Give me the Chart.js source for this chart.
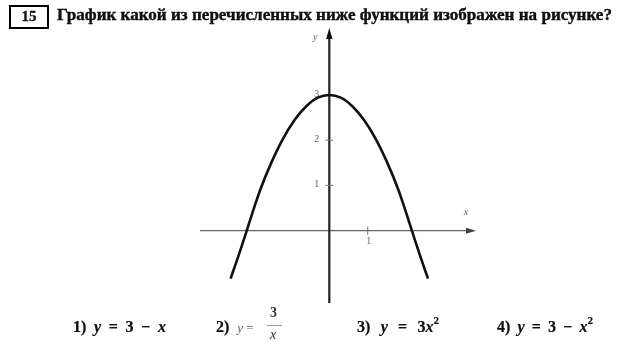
<!DOCTYPE html>
<html>
<head>
<meta charset="utf-8">
<script src="https://cdn.jsdelivr.net/npm/chart.js@4"></script>
<style>
  html, body { margin: 0; padding: 0; background: #fff; }
  body { width: 617px; height: 342px; position: relative; overflow: hidden; font-family: "Liberation Serif", "DejaVu Serif", serif; color: #111; }
  #c { position: absolute; left: 0; top: 0; }
  .abs { position: absolute; white-space: pre; }
  #num { left: 9px; top: 5px; width: 40px; height: 24px; box-sizing: border-box; border: 2.5px solid #000; font-weight: bold; font-size: 15px; line-height: 19px; text-align: center; -webkit-text-stroke: 0.3px #000; }
  #title { left: 57px; top: 5px; font-weight: bold; font-size: 17px; line-height: 20px; transform-origin: 0 0; -webkit-text-stroke: 0.35px #000; }
  .ans { top: 318px; font-weight: bold; font-size: 16px; line-height: 18px; -webkit-text-stroke: 0.2px #000; }
  .ans i { font-style: italic; }
  .ans sup { font-size: 11px; line-height: 0; vertical-align: baseline; position: relative; top: -8px; }
  .light { font-weight: normal; color: #666; font-size: 13px; -webkit-text-stroke: 0; }
</style>
</head>
<body>
<canvas id="c" width="617" height="342"></canvas>
<div id="num" class="abs">15</div>
<div id="title" class="abs">График какой из перечисленных ниже функций изображен на рисунке?</div>
<div class="abs ans fit" data-w="93" style="left:73px">1) <i>y</i> = 3 − <i>x</i></div>
<div class="abs ans" style="left:216px">2)  <span class="light"><i>y</i> =</span></div>
<div class="abs" style="left:270px;top:305px;font-size:14px;line-height:16px;font-weight:bold;color:#333">3</div>
<div class="abs" style="left:267px;top:325px;width:15px;height:0;border-top:1px solid #999"></div>
<div class="abs" style="left:270px;top:327px;font-size:14px;line-height:16px;font-style:italic;color:#333">x</div>
<div class="abs ans fit" data-w="82" style="left:357px">3) <i>y</i> = 3<i>x</i><sup>2</sup></div>
<div class="abs ans fit" data-w="96" style="left:497px">4) <i>y</i> = 3 − <i>x</i><sup>2</sup></div>
<script>
// ---- data ----
const curveX = [-2.57, -2.35, -2.15, -2.0, -1.8, -1.5, -1.2, -0.9, -0.6, -0.3, 0, 0.3, 0.6, 0.9, 1.2, 1.5, 1.8, 2.0, 2.15, 2.35, 2.57];
const curveY = [-1.06, -0.52, 0, 0.4, 0.9, 1.52, 2.04, 2.45, 2.75, 2.94, 3, 2.94, 2.75, 2.45, 2.04, 1.52, 0.9, 0.4, 0, -0.52, -1.06];
const xTicks = [1];
const yTicks = [1, 2, 3];
const xTickLabels = ['1'];
const yTickLabels = ['1', '2', '3'];
const axisNames = ['x', 'y'];

// fit title width and answer widths
(function(){
  const t = document.getElementById('title');
  const w = t.getBoundingClientRect().width;
  t.style.transform = 'scaleX(' + (555 / w) + ')';
  document.querySelectorAll('.fit').forEach(el => {
    const target = +el.dataset.w;
    const cur = el.getBoundingClientRect().width;
    const spaces = (el.textContent.match(/ /g) || []).length;
    if (spaces) el.style.wordSpacing = ((target - cur) / spaces) + 'px';
  });
})();

const axesPlugin = {
  id: 'axesPlugin',
  beforeDatasetsDraw(chart) {
    const {ctx, chartArea: a, scales: {x, y}} = chart;
    const x0 = x.getPixelForValue(0), y0 = y.getPixelForValue(0);
    ctx.save();
    // x axis
    ctx.strokeStyle = '#666'; ctx.lineWidth = 1.2;
    ctx.beginPath(); ctx.moveTo(a.left, y0); ctx.lineTo(a.right - 6, y0); ctx.stroke();
    ctx.fillStyle = '#444';
    ctx.beginPath(); ctx.moveTo(a.right, y0); ctx.lineTo(a.right - 10, y0 - 3); ctx.lineTo(a.right - 10, y0 + 3); ctx.closePath(); ctx.fill();
    // y axis
    ctx.strokeStyle = '#222'; ctx.lineWidth = 2.2;
    ctx.beginPath(); ctx.moveTo(x0, a.bottom); ctx.lineTo(x0, a.top + 6); ctx.stroke();
    ctx.fillStyle = '#111';
    ctx.beginPath(); ctx.moveTo(x0, a.top); ctx.lineTo(x0 - 3.2, a.top + 11); ctx.lineTo(x0 + 3.2, a.top + 11); ctx.closePath(); ctx.fill();
    // ticks
    ctx.strokeStyle = '#777'; ctx.lineWidth = 1;
    ctx.font = '10px "Liberation Serif", serif';
    ctx.fillStyle = '#666';
    xTicks.forEach((v, i) => {
      const px = x.getPixelForValue(v);
      ctx.beginPath(); ctx.moveTo(px, y0 - 4); ctx.lineTo(px, y0 + 4); ctx.stroke();
      ctx.textAlign = 'center'; ctx.textBaseline = 'top';
      ctx.fillText(xTickLabels[i], px + 1, y0 + 6);
    });
    yTicks.forEach((v, i) => {
      const py = y.getPixelForValue(v);
      ctx.beginPath(); ctx.moveTo(x0 - 4, py); ctx.lineTo(x0 + 4, py); ctx.stroke();
      ctx.textAlign = 'right'; ctx.textBaseline = 'middle';
      ctx.fillText(yTickLabels[i], x0 - 10, py - 1);
    });
    // axis names
    ctx.font = 'italic 10px "Liberation Serif", serif';
    ctx.textAlign = 'center'; ctx.textBaseline = 'middle';
    ctx.fillText(axisNames[0], a.right - 10, y0 - 18);
    ctx.fillText(axisNames[1], x0 - 14, a.top + 9);
    ctx.restore();
  }
};

new Chart(document.getElementById('c'), {
  type: 'scatter',
  data: {
    datasets: [{
      data: curveX.map((v, i) => ({x: v, y: curveY[i]})),
      showLine: true,
      borderColor: '#111',
      borderWidth: 2.6,
      pointRadius: 0,
      cubicInterpolationMode: 'monotone',
      fill: false
    }]
  },
  options: {
    responsive: false,
    animation: false,
    layout: { padding: { left: 200, right: 141, top: 28, bottom: 39 } },
    plugins: { legend: { display: false }, tooltip: { enabled: false } },
    scales: {
      x: { type: 'linear', min: -3.367, max: 3.82, display: false },
      y: { type: 'linear', min: -1.6, max: 4.48, display: false }
    }
  },
  plugins: [axesPlugin]
});
</script>
</body>
</html>
